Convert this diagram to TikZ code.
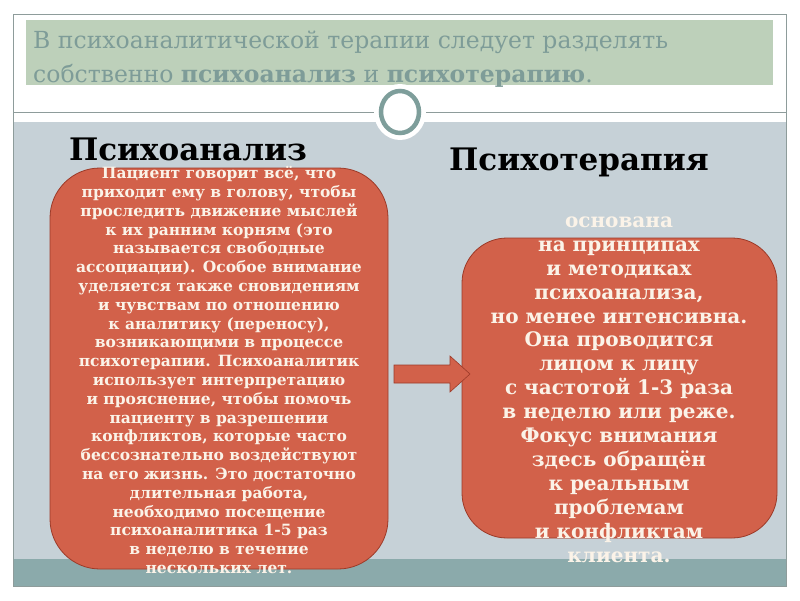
\documentclass[tikz,border=0pt]{standalone}
\usepackage{fontspec}
\setmainfont{DejaVu Serif}
\definecolor{boxred}{HTML}{D2614A}
\definecolor{boxedge}{HTML}{9C3A28}
\definecolor{bggrey}{HTML}{C6D1D7}
\definecolor{bandteal}{HTML}{8BAAAB}
\definecolor{titlegreen}{HTML}{BDD0BA}
\definecolor{titletext}{HTML}{7E9C98}
\definecolor{framegrey}{HTML}{8E9C9B}
\definecolor{ringcol}{HTML}{7E9E9B}
\definecolor{boxtext}{HTML}{FBF3E8}
\tikzset{
  redbox/.style={draw=boxedge, line width=0.8pt, fill=boxred, inner sep=0pt},
  boxtextstyle/.style={text=boxtext, align=center, inner sep=0pt},
  heading/.style={text=black, font=\fontsize{31}{36}\selectfont\bfseries, inner sep=0pt},
  titleline/.style={text=titletext, anchor=base west, inner sep=0pt, font=\fontsize{23.5}{34}\selectfont}
}
\begin{document}
\begin{tikzpicture}[x=1pt,y=-1pt]
\useasboundingbox (0,0) rectangle (800,600);
\fill[white] (0,0) rectangle (800,600);
% background regions
\fill[bggrey] (13,122) rectangle (786,559);
\fill[bandteal] (13,559) rectangle (786,586);
\draw[framegrey, line width=0.9pt] (13,14) rectangle (786,586);
\fill[titlegreen] (26,20) rectangle (773,85);
\draw[framegrey, line width=0.9pt] (13,112) -- (786,112);
% ring
\fill[white] (400,112) ellipse [x radius=26, y radius=28];
\draw[ringcol, line width=4.5pt, fill=white] (400,112) ellipse [x radius=19, y radius=21];
% title
\node[titleline] (t1) at (33,48) {В психоаналитической терапии следует разделять};
\node[titleline] (t2) at (33,82) {собственно \textbf{психоанализ} и \textbf{психотерапию}.};
% boxes
\node[redbox, rounded corners=50pt, minimum width=338pt, minimum height=401pt] (leftbox) at (219,368.5) {};
\node[redbox, rounded corners=45pt, minimum width=315pt, minimum height=300pt] (rightbox) at (619.5,388) {};
% arrow
\filldraw[fill=boxred, draw=boxedge, line width=0.6pt] (394,365) -- (450,365) -- (450,356) -- (470,374) -- (450,392) -- (450,383) -- (394,383) -- cycle;
% headings
\node[heading] (h1) at (188,149) {Психоанализ};
\node[heading] (h2) at (579,162) {Психотерапия};
% texts
\node[boxtextstyle, font=\fontsize{15.5}{18.8}\selectfont\bfseries] (ltext) at (219,370) {Пациент говорит всё, что\\
приходит ему в голову, чтобы\\
проследить движение мыслей\\
к их ранним корням (это\\
называется свободные\\
ассоциации). Особое внимание\\
уделяется также сновидениям\\
и чувствам по отношению\\
к аналитику (переносу),\\
возникающими в процессе\\
психотерапии. Психоаналитик\\
использует интерпретацию\\
и прояснение, чтобы помочь\\
пациенту в разрешении\\
конфликтов, которые часто\\
бессознательно воздействуют\\
на его жизнь. Это достаточно\\
длительная работа,\\
необходимо посещение\\
психоаналитика 1-5 раз\\
в неделю в течение\\
нескольких лет.};
\node[boxtextstyle, font=\fontsize{20}{23.9}\selectfont\bfseries] (rtext) at (619,389.5) {основана\\
на принципах\\
и методиках\\
психоанализа,\\
но менее интенсивна.\\
Она проводится\\
лицом к лицу\\
с частотой 1-3 раза\\
в неделю или реже.\\
Фокус внимания\\
здесь обращён\\
к реальным\\
проблемам\\
и конфликтам\\
клиента.};
\end{tikzpicture}
\end{document}
